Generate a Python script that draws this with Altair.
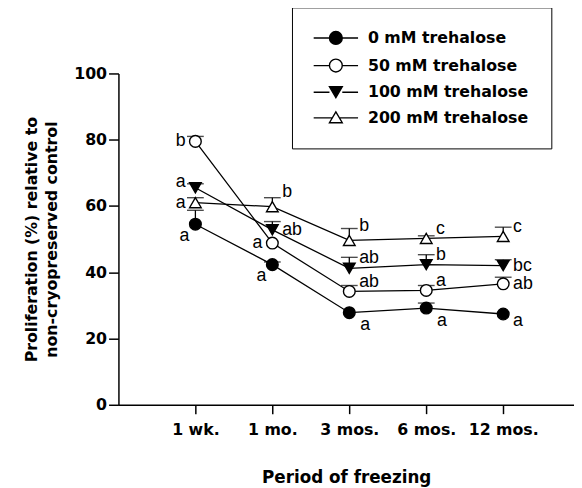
import altair as alt
import pandas as pd

periods = ["1 wk.", "1 mo.", "3 mos.", "6 mos.", "12 mos."]
series = ["0 mM trehalose", "50 mM trehalose", "100 mM trehalose", "200 mM trehalose"]

v0 = [54.5, 42.3, 27.8, 29.2, 27.4]
v50 = [79.5, 48.8, 34.2, 34.5, 36.5]
v100 = [65.5, 52.8, 41.2, 42.3, 42.0]
v200 = [61.0, 59.8, 49.6, 50.2, 50.8]

se0 = [4.2, 0.8, 0.0, 1.5, 0.0]
se50 = [1.5, 0.0, 1.8, 1.5, 2.0]
se100 = [1.2, 2.5, 3.3, 3.0, 1.8]
se200 = [1.5, 2.7, 3.6, 0.8, 2.8]

letters0 = ["a", "a", "a", "a", "a"]
letters50 = ["b", "a", "ab", "a", "ab"]
letters100 = ["a", "ab", "ab", "b", "bc"]
letters200 = ["a", "b", "b", "c", "c"]

place0 = ["BL", "BL", "BR", "BR", "RB"]
place50 = ["L", "L", "RA", "RA", "R"]
place100 = ["LA", "R", "RA", "RA", "R"]
place200 = ["L", "RH", "RH", "RA", "RA"]

vals = [v0, v50, v100, v200]
ses = [se0, se50, se100, se200]
lets = [letters0, letters50, letters100, letters200]
places = [place0, place50, place100, place200]

rows = []
for s, name in enumerate(series):
    for i, p in enumerate(periods):
        rows.append({
            "idx": i + 1, "period": p, "series": name,
            "value": vals[s][i], "se": ses[s][i],
            "upper": vals[s][i] + ses[s][i],
            "letter": lets[s][i], "place": places[s][i],
        })
df = pd.DataFrame(rows)

FONT = "DejaVu Sans"
label_expr = "[" + ",".join("'%s'" % p for p in periods) + "][datum.value - 1]"

x = alt.X("idx:Q", scale=alt.Scale(domain=[0, 5.92], nice=False, zero=False),
          axis=alt.Axis(values=[1, 2, 3, 4, 5], labelExpr=label_expr,
                        title="Period of freezing", grid=False,
                        tickSize=9, labelPadding=8, titlePadding=33,
                        labelFont=FONT, labelFontSize=16, labelFontWeight="bold",
                        titleFont=FONT, titleFontSize=17, titleFontWeight="bold",
                        labelColor="black", titleColor="black",
                        domainColor="black", tickColor="black",
                        domainWidth=1.5, tickWidth=1.5))
y = alt.Y("value:Q", scale=alt.Scale(domain=[0, 100], nice=False),
          axis=alt.Axis(values=[0, 20, 40, 60, 80, 100], grid=False,
                        title=["Proliferation (%) relative to", "non-cryopreserved control"],
                        tickSize=10, labelPadding=2, titlePadding=14,
                        labelFont=FONT, labelFontSize=16, labelFontWeight="bold",
                        titleFont=FONT, titleFontSize=16, titleFontWeight="bold",
                        titleLineHeight=21,
                        labelColor="black", titleColor="black",
                        domainColor="black", tickColor="black",
                        domainWidth=1.5, tickWidth=1.5))

base = alt.Chart(df)

lines = base.mark_line(color="black", strokeWidth=1.3).encode(x=x, y=y, detail="series:N")

err = base.transform_filter("datum.se > 0")
err_rule = err.mark_rule(color="black", strokeWidth=1.3).encode(x=x, y=y, y2="upper:Q")
err_cap = err.mark_tick(orient="horizontal", size=17, thickness=1.4, color="black").encode(
    x=x, y=alt.Y("upper:Q"))

shape_main = alt.Shape("series:N", scale=alt.Scale(domain=series,
                       range=["circle", "circle", "triangle-down", "triangle-up"]), legend=None)
fill_colors = ["black", "white", "black", "white"]
fill_main = alt.Fill("series:N", scale=alt.Scale(domain=series, range=fill_colors), legend=None)

points = base.mark_point(filled=True, size=140, stroke="black", strokeWidth=1.4, opacity=1).encode(
    x=x, y=y, shape=shape_main, fill=fill_main)

offsets = {
    "L": ("right", -10, 0),
    "LA": ("right", -10, -6),
    "BL": ("right", -6, 12),
    "R": ("left", 10, 0),
    "RA": ("left", 10, -10),
    "RH": ("left", 10, -15),
    "BR": ("left", 11, 13),
    "RB": ("left", 10, 7),
}
text_layers = []
for code, (al, dx, dy) in offsets.items():
    text_layers.append(
        base.transform_filter(alt.datum.place == code).mark_text(
            align=al, baseline="middle", dx=dx, dy=dy, font="Liberation Sans",
            fontSize=18, color="black").encode(x=x, y=y, text="letter:N"))

legend_paths = [
    "M-9,0H7M20,0H36M7,0A6.5,6.5,0,1,1,20,0A6.5,6.5,0,1,1,7,0Z",
    "M-9,0H7M20,0H36M7,0A6.5,6.5,0,1,1,20,0A6.5,6.5,0,1,1,7,0Z",
    "M-9,0H7M20,0H36M7,-5.5H20L13.5,5.5Z",
    "M-9,0H10M17,0H36M7,5L20,5L13.5,-6Z",
]
leg = alt.Legend(title=None, orient="none", legendX=176, legendY=-67,
                 strokeColor="black", fillColor="white", padding=23,
                 symbolSize=4, symbolStrokeWidth=1.4, symbolStrokeColor="black",
                 symbolOpacity=1,
                 labelFont=FONT, labelFontSize=16, labelFontWeight="bold",
                 labelColor="black", labelOffset=38, rowPadding=8, labelLimit=400)
legend_layer = base.transform_filter("false").mark_point(
    filled=True, strokeWidth=1.4, opacity=1).encode(
    x=x, y=y,
    shape=alt.Shape("series:N", scale=alt.Scale(domain=series, range=legend_paths), legend=leg),
    fill=alt.Fill("series:N", scale=alt.Scale(domain=series, range=fill_colors), legend=leg),
    stroke=alt.Stroke("series:N", scale=alt.Scale(domain=series, range=["black"] * 4), legend=leg))

chart = alt.layer(lines, err_rule, err_cap, points, *text_layers, legend_layer).resolve_scale(
    shape="independent", fill="independent", stroke="independent"
).properties(
    width=462, height=336,
    padding={"left": 112, "top": 63, "right": 0, "bottom": 80},
    autosize=alt.AutoSizeParams(type="none"),
    background="white",
).configure_view(stroke=None)

chart.save("out.html", embed_options={"renderer": "svg", "actions": False})
